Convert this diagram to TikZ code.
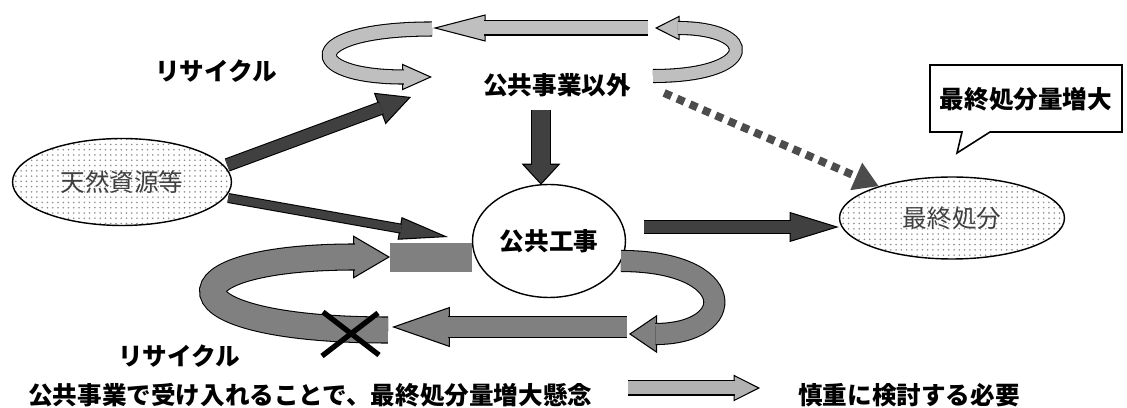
\documentclass[tikz,border=0pt]{standalone}
\usepackage{fontspec}
\newfontfamily\jp{Noto Sans CJK JP}
\usetikzlibrary{arrows.meta,shapes.geometric,patterns,calc}

\tikzset{
  lbl/.style={font=\jp\bfseries\fontsize{14}{16}\selectfont, inner sep=0pt},
  blob/.style={ellipse, draw, line width=0.8pt, preaction={fill=white},
    pattern=dots, pattern color=black!45, inner sep=0pt,
    font=\jp\fontsize{14}{16}\selectfont, text=black!75},
}
% fat outlined arrow: fill colour, shaft width, head length, head width, path
\newcommand\fatarr[5]{%
  \draw[line width=0.6pt, -{Triangle[length=#3, width=#4, fill=#1]}] #5;
  \draw[line width=0.6pt, double=#1, double distance=#2, shorten >=#3-1pt] #5;}

\begin{document}
\begin{tikzpicture}[x=0.02cm, y=-0.02cm]
  \useasboundingbox (0,0) rectangle (1127,408);

  \node[blob, minimum width=4.38cm, minimum height=1.74cm] (res) at (122,182) {天然資源等};
  \node[ellipse, draw, line width=0.8pt, fill=white, minimum width=3.06cm,
    minimum height=2.26cm, lbl] (pub) at (549,241) {公共工事};
  \node[blob, minimum width=4.5cm, minimum height=1.64cm] (fin) at (952,218) {最終処分};
  \node[lbl] (other) at (557,85) {公共事業以外};
  \node[lbl] (rcTop) at (216,71) {リサイクル};
  \node[lbl] (rcBot) at (179,356) {リサイクル};
  \node[lbl, anchor=west] (note) at (28,395) {公共事業で受け入れることで、最終処分量増大懸念};
  \node[lbl, anchor=west] (need) at (798,395) {慎重に検討する必要};

  % callout
  \draw[line width=0.9pt, fill=white] (930,65) -- (1122,65) -- (1122,132) -- (990,132)
    -- (957,153) -- (962,132) -- (930,132) -- cycle;
  \node[lbl] (grow) at (1026,99) {最終処分量増大};

  \coordinate (c1) at (411,97);
  \coordinate (c2) at (448,237);

  % flows
  \fatarr{black!75}{6.6pt}{19pt}{19pt}{($(res.east)+(-5,-17)$) -- (c1)}
  \fatarr{black!75}{4.5pt}{28pt}{13pt}{($(res.east)+(-4,16)$) -- (c2)}
  \fatarr{black!75}{10pt}{12pt}{22pt}{($(other.south)+(-16,13)$) -- ($(pub.north)+(-8,1)$)}
  \fatarr{black!75}{6.3pt}{28pt}{17pt}{($(pub.east)+(18,-14)$) -- ($(fin.west)+(0,9)$)}
  \draw[black!70, line width=4.5pt, dash pattern=on 4.5pt off 3.5pt,
    -{Triangle[length=14pt, width=16pt]}] ($(other.east)+(33,8)$) -- (fin);

  % recycling, top
  \fatarr{black!25}{7.4pt}{17pt}{15pt}{(432,29) .. controls (300,29) and (300,77) .. (432,77)}
  \fatarr{black!25}{6.8pt}{14pt}{14pt}{(653,76) .. controls (759,76) and (759,28) .. (655,28)}
  \fatarr{black!25}{7.4pt}{30pt}{15.4pt}{(648,28) -- (433,28)}

  % recycling, bottom
  \fill[black!50] (390,243) rectangle (472,272);
  \fatarr{black!50}{14.2pt}{21pt}{24.5pt}{(388,330) .. controls (160,330) and (160,257) .. (390,257)}
  \fatarr{black!50}{11.4pt}{16pt}{21.6pt}{(621,261) .. controls (739,261) and (739,334) .. (629,334)}
  \fatarr{black!50}{11.4pt}{33pt}{22.8pt}{(627,327) -- (392,327)}
  \draw[line width=3pt] (323,312) -- (379,355) (322,356) -- (378,313);

  % legend
  \coordinate (k1) at (628,388);
  \coordinate (k2) at (760,388);
  \fatarr{black!30}{7.4pt}{15pt}{15pt}{(k1) -- (k2)}
\end{tikzpicture}
\end{document}
